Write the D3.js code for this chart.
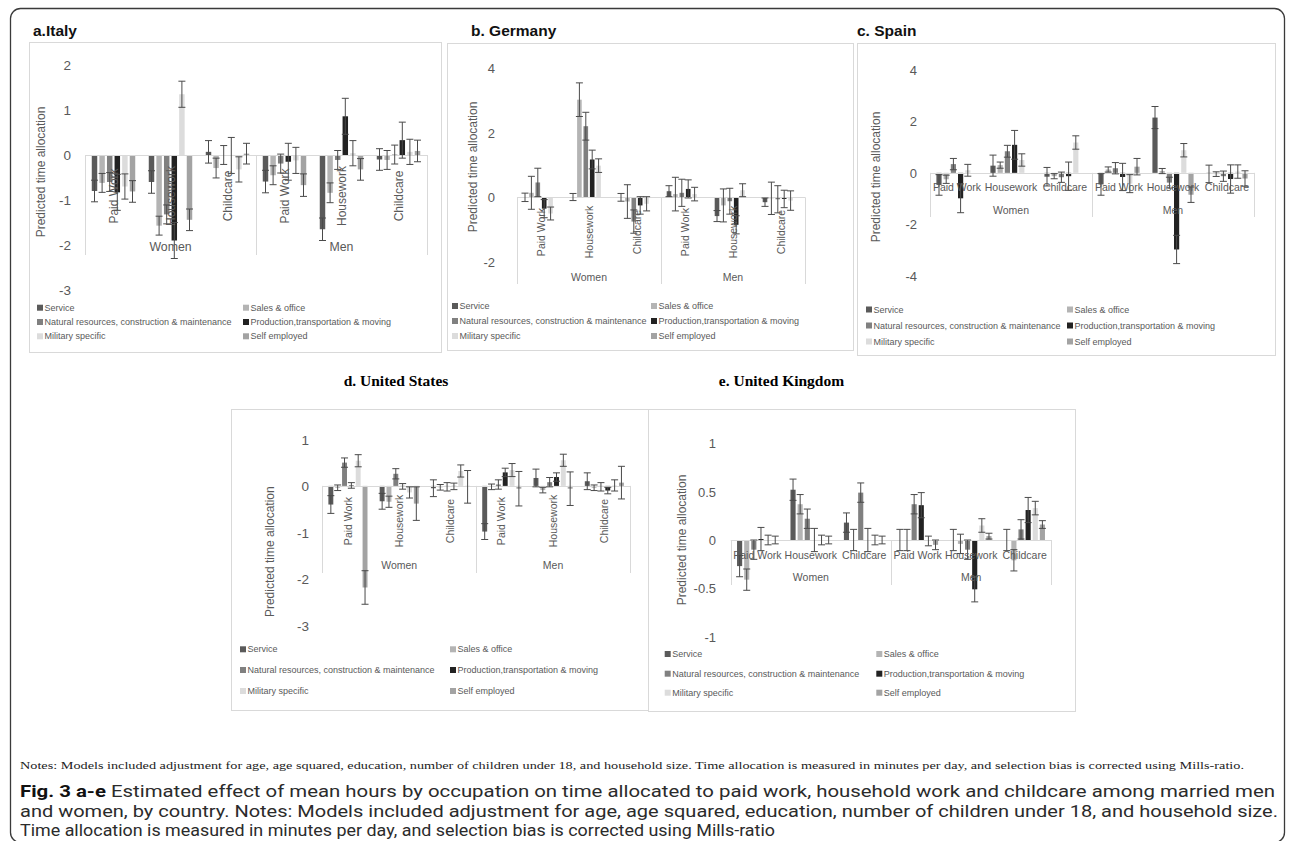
<!DOCTYPE html>
<html>
<head>
<meta charset="utf-8">
<script src="https://cdn.jsdelivr.net/npm/d3@7"></script>
<style>
  body { margin: 0; background: #fff; }
  svg { display: block; }
</style>
</head>
<body>
<svg id="fig" width="1292" height="841"></svg>
<script>
// ---- categories -------------------------------------------------------
const seriesNames = [
  "Service",
  "Sales & office",
  "Natural resources, construction & maintenance",
  "Production,transportation & moving",
  "Military specific",
  "Self employed"
];
const groupNames = ["Women", "Men"];
const activityNames = ["Paid Work", "Housework", "Childcare"];

// ---- values: one row per occupation series, columns are
//      Women: Paid Work, Housework, Childcare | Men: Paid Work, Housework, Childcare
const italyValues = [
  [-0.80, -0.60,  0.07, -0.59, -1.65, -0.10],
  [-0.62, -1.57, -0.29, -0.45, -0.84, -0.11],
  [-0.60, -1.32,  0.00, -0.19, -0.11,  0.01],
  [-0.83, -1.90, -0.01, -0.15,  0.86,  0.33],
  [-0.70,  1.35, -0.32, -0.12,  0.04,  0.07],
  [-0.81, -1.44,  0.03, -0.67, -0.32,  0.09]
];
const italyErrors = [
  [0.24, 0.25, 0.25, 0.25, 0.25, 0.24],
  [0.21, 0.21, 0.22, 0.21, 0.22, 0.21],
  [0.21, 0.21, 0.21, 0.21, 0.21, 0.21],
  [0.40, 0.40, 0.40, 0.41, 0.40, 0.40],
  [0.28, 0.29, 0.28, 0.29, 0.28, 0.28],
  [0.24, 0.24, 0.23, 0.25, 0.24, 0.24]
];
const italyTicks = [2, 1, 0, -1, -2, -3];

const germanyValues = [
  [ 0.00,  0.01,  0.00,  0.19, -0.58, -0.15],
  [ 0.14,  3.02, -0.13,  0.10, -0.25, -0.03],
  [ 0.46,  2.20, -0.75,  0.14, -0.12, -0.06],
  [-0.35,  1.17, -0.25,  0.26, -0.85, -0.05],
  [-0.50,  0.98, -0.20,  0.10,  0.22, -0.10],
  [ 0.00,  0.00,  0.00,  0.00,  0.00,  0.00]
];
const germanyErrors = [
  [0.13, 0.11, 0.12, 0.17, 0.17, 0.13],
  [0.51, 0.52, 0.52, 0.52, 0.51, 0.50],
  [0.44, 0.43, 0.36, 0.42, 0.40, 0.42],
  [0.28, 0.29, 0.27, 0.28, 0.28, 0.27],
  [0.20, 0.21, 0.22, 0.21, 0.20, 0.30],
  [0.00, 0.00, 0.00, 0.00, 0.00, 0.00]
];
const germanyTicks = [4, 2, 0, -2];

const spainValues = [
  [-0.47,  0.28, -0.15, -0.45,  2.15, -0.04],
  [-0.25,  0.30, -0.13,  0.13,  0.07, -0.05],
  [ 0.34,  0.84, -0.17,  0.18, -0.38, -0.13],
  [-0.99,  1.09, -0.13, -0.16, -2.98, -0.24],
  [ 0.10,  0.50,  1.18, -0.42,  0.88,  0.05],
  [ 0.00,  0.00,  0.00,  0.24, -0.85, -0.22]
];
const spainErrors = [
  [0.40, 0.41, 0.36, 0.42, 0.43, 0.34],
  [0.16, 0.12, 0.10, 0.10, 0.10, 0.09],
  [0.22, 0.23, 0.20, 0.22, 0.21, 0.20],
  [0.56, 0.56, 0.55, 0.53, 0.55, 0.55],
  [0.23, 0.24, 0.26, 0.35, 0.26, 0.26],
  [0.00, 0.00, 0.00, 0.32, 0.30, 0.30]
];
const spainTicks = [4, 2, 0, -2, -4];

const usValues = [
  [-0.40, -0.33, -0.05, -0.98,  0.17,  0.10],
  [-0.04, -0.34, -0.03, -0.02, -0.09, -0.04],
  [ 0.50,  0.26, -0.02,  0.03,  0.08, -0.02],
  [ 0.01, -0.01, -0.01,  0.29,  0.19, -0.10],
  [ 0.54, -0.14,  0.32,  0.34,  0.55,  0.01],
  [-2.18, -0.38, -0.02, -0.06, -0.06,  0.07]
];
const usErrors = [
  [0.19, 0.17, 0.18, 0.17, 0.19, 0.18],
  [0.06, 0.12, 0.06, 0.06, 0.06, 0.06],
  [0.10, 0.11, 0.09, 0.10, 0.10, 0.09],
  [0.06, 0.06, 0.07, 0.09, 0.09, 0.07],
  [0.13, 0.12, 0.13, 0.14, 0.13, 0.12],
  [0.36, 0.36, 0.35, 0.37, 0.36, 0.35]
];
const usTicks = [1, 0, -1, -2, -3];

const ukValues = [
  [-0.27,  0.52,  0.18,  0.00,  0.00,  0.00],
  [-0.41,  0.37,  0.00,  0.00, -0.04, -0.21],
  [-0.10,  0.22,  0.49,  0.37, -0.10,  0.11],
  [ 0.01,  0.00,  0.00,  0.36, -0.51,  0.31],
  [ 0.00,  0.00,  0.00, -0.01,  0.15,  0.33],
  [ 0.00,  0.00,  0.00, -0.05,  0.04,  0.16]
];
const ukErrors = [
  [0.11, 0.11, 0.10, 0.11, 0.11, 0.11],
  [0.11, 0.10, 0.11, 0.11, 0.10, 0.11],
  [0.10, 0.10, 0.10, 0.10, 0.10, 0.10],
  [0.12, 0.12, 0.12, 0.13, 0.13, 0.13],
  [0.05, 0.05, 0.05, 0.05, 0.07, 0.07],
  [0.04, 0.04, 0.04, 0.05, 0.03, 0.04]
];
const ukTicks = [1, 0.5, 0, -0.5, -1];

// ---- styling ----------------------------------------------------------
const seriesColors = ["#5a5a5a", "#b4b4b4", "#808080", "#222222", "#dcdcdc", "#a3a3a3"];
const TEXT = "#595959";
const RULE = "#d9d9d9";
const SANS = "'Liberation Sans', Arial, sans-serif";
const SERIF = "'Liberation Serif', 'Times New Roman', serif";

const svg = d3.select("#fig");

// category keys in column order
const categories = [];
groupNames.forEach(g => activityNames.forEach(a => categories.push(g + "|" + a)));

function drawPanel(L, values, errors, ticks, titleText) {
  const g = svg.append("g");

  // frame
  g.append("rect")
    .attr("x", L.frame[0] + 0.5).attr("y", L.frame[1] + 0.5)
    .attr("width", L.frame[2] - L.frame[0]).attr("height", L.frame[3] - L.frame[1])
    .attr("fill", "none").attr("stroke", RULE).attr("stroke-width", 1);

  // title
  g.append("text")
    .attr("x", L.title.x).attr("y", L.title.y)
    .attr("text-anchor", L.title.anchor || "start")
    .attr("font-family", L.title.serif ? SERIF : SANS)
    .attr("font-weight", "bold")
    .attr("font-size", L.title.size)
    .attr("fill", L.title.serif ? "#000" : "#111")
    .text(titleText);

  const y = d3.scaleLinear()
    .domain([d3.max(ticks), d3.min(ticks)])
    .range([L.yTop, L.yBottom]);

  const x = d3.scaleBand().domain(categories).range(L.plot).paddingInner(0).paddingOuter(0);
  const xs = d3.scaleBand().domain(d3.range(seriesNames.length))
    .range([0, x.bandwidth()]).paddingInner(0.28).paddingOuter(0.89);

  // value axis tick labels (no axis line, as in the source chart)
  const yAxis = d3.axisLeft(y).tickValues(ticks).tickSize(0).tickPadding(0)
    .tickFormat(d => String(d));
  const ya = g.append("g").attr("transform", `translate(${L.tickX},0)`).call(yAxis);
  ya.select(".domain").remove();
  ya.selectAll("text")
    .attr("font-family", SANS).attr("font-size", L.tickSize).attr("fill", TEXT)
    .attr("dy", "0.35em");

  // value axis title
  g.append("text")
    .attr("transform", `translate(${L.yTitle[0]},${L.yTitle[1]}) rotate(-90)`)
    .attr("text-anchor", "middle").attr("dy", "0.35em")
    .attr("font-family", SANS).attr("font-size", 12).attr("fill", TEXT)
    .text("Predicted time allocation");

  // bars
  const cells = [];
  values.forEach((row, si) => row.forEach((v, ci) => {
    cells.push({ s: si, c: categories[ci], v: v, e: errors[si][ci] });
  }));
  const y0 = y(0);
  g.append("g").selectAll("rect").data(cells).join("rect")
    .attr("x", d => x(d.c) + xs(d.s))
    .attr("width", xs.bandwidth())
    .attr("y", d => Math.min(y(d.v), y0))
    .attr("height", d => Math.abs(y(d.v) - y0))
    .attr("fill", d => seriesColors[d.s]);

  // category axis line at zero and group separators
  g.append("line")
    .attr("x1", L.plot[0]).attr("x2", L.plot[1])
    .attr("y1", Math.round(y0) + 0.5).attr("y2", Math.round(y0) + 0.5)
    .attr("stroke", RULE).attr("stroke-width", 1.2);
  const seps = [L.plot[0], (L.plot[0] + L.plot[1]) / 2, L.plot[1]];
  g.append("g").selectAll("line").data(seps).join("line")
    .attr("x1", d => Math.round(d) + 0.5).attr("x2", d => Math.round(d) + 0.5)
    .attr("y1", y0).attr("y2", L.sepBottom)
    .attr("stroke", RULE).attr("stroke-width", 1);

  // error bars
  const eb = g.append("g").attr("stroke", "#4a4a4a").attr("stroke-width", 1).attr("fill", "none");
  cells.filter(d => d.e > 0).forEach(d => {
    const cx = x(d.c) + xs(d.s) + xs.bandwidth() / 2;
    const hi = y(d.v + d.e), lo = y(d.v - d.e);
    const cap = 3.5;
    eb.append("line").attr("x1", cx).attr("x2", cx).attr("y1", hi).attr("y2", lo);
    eb.append("line").attr("x1", cx - cap).attr("x2", cx + cap).attr("y1", hi).attr("y2", hi);
    eb.append("line").attr("x1", cx - cap).attr("x2", cx + cap).attr("y1", lo).attr("y2", lo);
  });

  // activity labels
  categories.forEach(c => {
    const label = c.split("|")[1];
    const cx = x(c) + x.bandwidth() / 2;
    const t = g.append("text")
      .attr("font-family", SANS).attr("font-size", L.sub.size).attr("fill", TEXT)
      .attr("text-anchor", "middle").attr("dy", "0.35em")
      .text(label);
    if (L.sub.rot) t.attr("transform", `translate(${cx},${L.sub.y}) rotate(-90)`);
    else t.attr("x", cx).attr("y", L.sub.y);
  });

  // group labels
  groupNames.forEach((grp, i) => {
    g.append("text")
      .attr("x", (seps[i] + seps[i + 1]) / 2).attr("y", L.grp.y)
      .attr("text-anchor", "middle").attr("dy", "0.35em")
      .attr("font-family", SANS).attr("font-size", L.grp.size).attr("fill", TEXT)
      .text(grp);
  });

  // legend: two columns, three rows
  seriesNames.forEach((name, i) => {
    const col = i % 2, row = Math.floor(i / 2);
    const lx = L.legend.cols[col], ly = L.legend.rows[row];
    g.append("rect").attr("x", lx).attr("y", ly - 3).attr("width", 6).attr("height", 6)
      .attr("fill", seriesColors[i]);
    g.append("text").attr("x", lx + 7.5).attr("y", ly).attr("dy", "0.35em")
      .attr("font-family", SANS).attr("font-size", 9).attr("fill", TEXT)
      .text(name);
  });
}

// ---- panel layouts ----------------------------------------------------
const layouts = {
  italy: {
    frame: [29, 42, 441, 352],
    title: { x: 33, y: 36, size: 15.5 },
    yTop: 65, yBottom: 290, tickX: 71, tickSize: 13.5,
    yTitle: [41, 172], plot: [85, 427], sepBottom: 255,
    sub: { rot: true, y: 196, size: 12 }, grp: { y: 247, size: 12.3 },
    legend: { rows: [307.7, 322, 336.3], cols: [37, 243] }
  },
  germany: {
    frame: [447, 43, 853, 350],
    title: { x: 471, y: 36, size: 15.5 },
    yTop: 68, yBottom: 262, tickX: 495, tickSize: 13,
    yTitle: [473, 167], plot: [517, 805], sepBottom: 284,
    sub: { rot: true, y: 232, size: 10.5 }, grp: { y: 277, size: 10.5 },
    legend: { rows: [306, 321, 336], cols: [452, 651] }
  },
  spain: {
    frame: [857, 43, 1275, 355],
    title: { x: 857, y: 36, size: 15.5 },
    yTop: 70, yBottom: 275.7, tickX: 917, tickSize: 13,
    yTitle: [876, 177], plot: [930, 1254], sepBottom: 217,
    sub: { rot: false, y: 187.3, size: 10.5 }, grp: { y: 210, size: 10.5 },
    legend: { rows: [309.5, 325.5, 341.5], cols: [866, 1067] }
  },
  us: {
    frame: [231, 409, 648, 710],
    title: { x: 396, y: 386, size: 15.5, anchor: "middle", serif: true },
    yTop: 439.3, yBottom: 625.7, tickX: 309, tickSize: 13.5,
    yTitle: [269.3, 551.7], plot: [322.3, 630], sepBottom: 573,
    sub: { rot: true, y: 521, size: 10.5 }, grp: { y: 565, size: 10.5 },
    legend: { rows: [649.3, 670, 691], cols: [240, 450] }
  },
  uk: {
    frame: [648, 409, 1075, 711],
    title: { x: 781.5, y: 386, size: 15.5, anchor: "middle", serif: true },
    yTop: 443.3, yBottom: 636.7, tickX: 716, tickSize: 13,
    yTitle: [681.3, 540], plot: [730.7, 1051.3], sepBottom: 585,
    sub: { rot: false, y: 555, size: 10.5 }, grp: { y: 577.3, size: 10.5 },
    legend: { rows: [654, 673.7, 692.7], cols: [664.7, 876.3] }
  }
};

// outer rounded frame
svg.append("rect")
  .attr("x", 10.5).attr("y", 8.5).attr("width", 1274).attr("height", 834).attr("rx", 10)
  .attr("fill", "none").attr("stroke", "#3a3a3a").attr("stroke-width", 1.3);

drawPanel(layouts.italy, italyValues, italyErrors, italyTicks, "a.Italy");
drawPanel(layouts.germany, germanyValues, germanyErrors, germanyTicks, "b. Germany");
drawPanel(layouts.spain, spainValues, spainErrors, spainTicks, "c. Spain");
drawPanel(layouts.us, usValues, usErrors, usTicks, "d. United States");
drawPanel(layouts.uk, ukValues, ukErrors, ukTicks, "e. United Kingdom");

// ---- notes and caption -------------------------------------------------
svg.append("text")
  .attr("x", 20).attr("y", 769)
  .attr("font-family", SERIF).attr("font-size", 10.5).attr("fill", "#222")
  .attr("textLength", 1224).attr("lengthAdjust", "spacingAndGlyphs")
  .text("Notes:  Models included adjustment for age, age squared, education, number of children under 18, and household size. Time allocation is measured in minutes per day, and selection bias is corrected using Mills-ratio.");

const CAP = "'Liberation Sans Narrow', 'Roboto', sans-serif";
const capLines = [
  { y: 797, w: 1255, bold: "Fig. 3 a-e", rest: " Estimated effect of mean hours by occupation on time allocated to paid work, household work and childcare among married men" },
  { y: 817, w: 1258, bold: "", rest: "and women, by country. Notes: Models included adjustment for age, age squared, education, number of children under 18, and household size." },
  { y: 836, w: 755, bold: "", rest: "Time allocation is measured in minutes per day, and selection bias is corrected using Mills-ratio" }
];
capLines.forEach(l => {
  const t = svg.append("text")
    .attr("x", 20).attr("y", l.y)
    .attr("font-family", CAP).attr("font-size", 16.5).attr("fill", "#2b2b2b")
    .attr("textLength", l.w).attr("lengthAdjust", "spacingAndGlyphs");
  if (l.bold) t.append("tspan").attr("font-weight", "bold").attr("fill", "#111").text(l.bold);
  t.append("tspan").text(l.rest);
});
</script>
</body>
</html>
